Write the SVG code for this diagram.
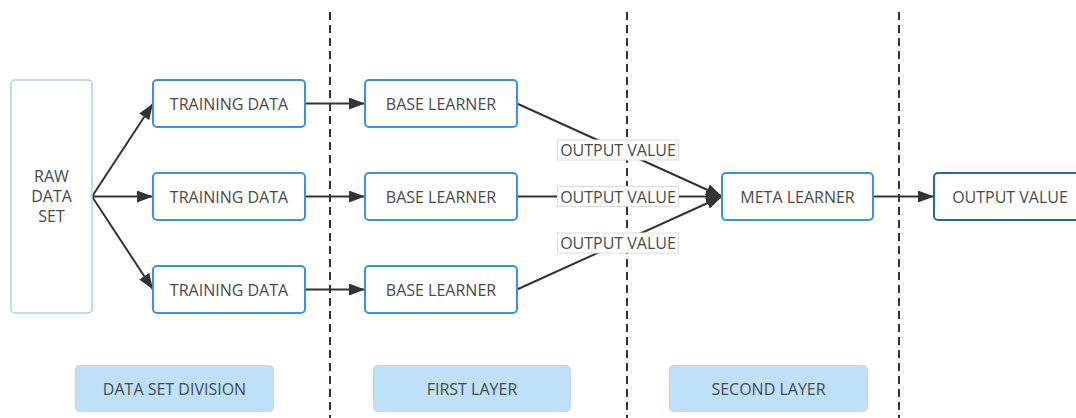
<svg xmlns="http://www.w3.org/2000/svg" width="1076" height="418" viewBox="0 0 1076 418">
  <defs>
    <marker id="arrow" viewBox="0 0 16 12" refX="16" refY="6" markerWidth="16" markerHeight="12" markerUnits="userSpaceOnUse" orient="auto">
      <path d="M0,0 L16,6 L0,12 Z" fill="#333"/>
    </marker>
  </defs>
  <style>
    text { font-family: "Open Sans", "Liberation Sans", sans-serif; font-size: 16px; fill: #4a4a4a; text-anchor: middle; dominant-baseline: central; }
    .node { fill: #fff; stroke: #3a93e2; stroke-width: 2; }
    .raw { fill: #fff; stroke: #a9d1f3; stroke-width: 1.5; }
    .final { fill: #fff; stroke: #2a62b4; stroke-width: 2; }
    .stage { fill: #bfe0f9; stroke: #d4d4d4; stroke-width: 1; }
    .divider { stroke: #333; stroke-width: 2; stroke-dasharray: 8 5; fill: none; }
    .edge { stroke: #333; stroke-width: 2; fill: none; }
    .arrow { marker-end: url(#arrow); }
    .tag { fill: #fff; stroke: #dcdcdc; stroke-width: 1; }
  </style>
  <rect width="1076" height="418" fill="#fff"/>

  <!-- stage dividers -->
  <g id="dividers">
    <line class="divider" x1="330" y1="12" x2="330" y2="418"/>
    <line class="divider" x1="627" y1="12" x2="627" y2="418"/>
    <line class="divider" x1="899" y1="12" x2="899" y2="418"/>
  </g>

  <!-- connectors -->
  <g id="connectors">
    <line class="edge arrow" x1="92" y1="196.5" x2="153" y2="103.5"/>
    <line class="edge arrow" x1="92" y1="196.5" x2="153" y2="196.5"/>
    <line class="edge arrow" x1="92" y1="196.5" x2="153" y2="289.5"/>
    <line class="edge arrow" x1="305" y1="103.5" x2="365" y2="103.5"/>
    <line class="edge arrow" x1="305" y1="196.5" x2="365" y2="196.5"/>
    <line class="edge arrow" x1="305" y1="289.5" x2="365" y2="289.5"/>
    <line class="edge arrow" x1="517" y1="103.5" x2="722" y2="196.5"/>
    <line class="edge arrow" x1="517" y1="196.5" x2="722" y2="196.5"/>
    <line class="edge arrow" x1="517" y1="289.5" x2="722" y2="196.5"/>
    <line class="edge arrow" x1="873" y1="196.5" x2="934" y2="196.5"/>
    <g id="edge-labels">
      <rect class="tag" x="557.5" y="140" width="121" height="20"/>
      <text x="618" y="150">OUTPUT VALUE</text>
      <rect class="tag" x="557.5" y="186.5" width="121" height="20"/>
      <text x="618" y="196.5">OUTPUT VALUE</text>
      <rect class="tag" x="557.5" y="233" width="121" height="20"/>
      <text x="618" y="243">OUTPUT VALUE</text>
    </g>
  </g>

  <g id="raw-data-set">
    <rect class="raw" x="11" y="80" width="81" height="233" rx="4"/>
    <text x="51.5" y="176">RAW</text>
    <text x="51.5" y="196">DATA</text>
    <text x="51.5" y="216">SET</text>
  </g>

  <g id="training-data-1">
    <rect class="node" x="153" y="80" width="152" height="47" rx="4"/>
    <text x="229" y="103.5">TRAINING DATA</text>
  </g>
  <g id="training-data-2">
    <rect class="node" x="153" y="173" width="152" height="47" rx="4"/>
    <text x="229" y="196.5">TRAINING DATA</text>
  </g>
  <g id="training-data-3">
    <rect class="node" x="153" y="266" width="152" height="47" rx="4"/>
    <text x="229" y="289.5">TRAINING DATA</text>
  </g>

  <g id="base-learner-1">
    <rect class="node" x="365" y="80" width="152" height="47" rx="4"/>
    <text x="441" y="103.5">BASE LEARNER</text>
  </g>
  <g id="base-learner-2">
    <rect class="node" x="365" y="173" width="152" height="47" rx="4"/>
    <text x="441" y="196.5">BASE LEARNER</text>
  </g>
  <g id="base-learner-3">
    <rect class="node" x="365" y="266" width="152" height="47" rx="4"/>
    <text x="441" y="289.5">BASE LEARNER</text>
  </g>

  <g id="meta-learner">
    <rect class="node" x="722" y="173" width="151" height="47" rx="4"/>
    <text x="797.5" y="196.5">META LEARNER</text>
  </g>

  <g id="output-value">
    <rect class="final" x="934" y="173" width="152" height="47" rx="4"/>
    <text x="1010" y="196.5">OUTPUT VALUE</text>
  </g>

  <g id="stage-data-set-division">
    <rect class="stage" x="75.5" y="365.5" width="198" height="46" rx="4"/>
    <text x="174.5" y="388.5">DATA SET DIVISION</text>
  </g>
  <g id="stage-first-layer">
    <rect class="stage" x="373.5" y="365.5" width="197" height="46" rx="4"/>
    <text x="472" y="388.5">FIRST LAYER</text>
  </g>
  <g id="stage-second-layer">
    <rect class="stage" x="669.5" y="365.5" width="198" height="46" rx="4"/>
    <text x="768.5" y="388.5">SECOND LAYER</text>
  </g>
</svg>
